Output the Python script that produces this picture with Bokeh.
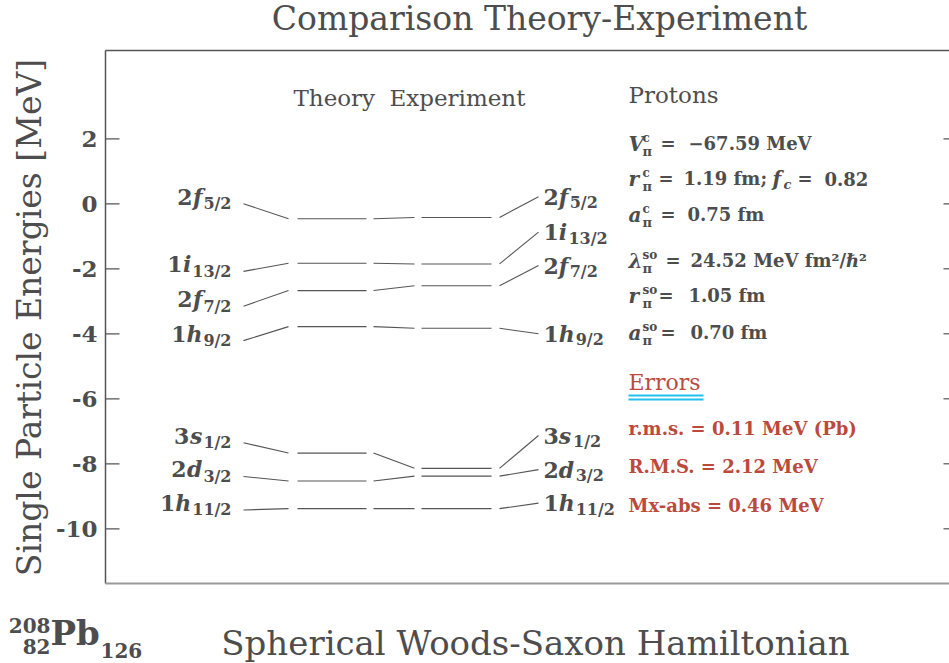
import math
from bokeh.plotting import figure
from bokeh.models import Range1d, Label, ColumnDataSource
from bokeh.embed import file_html
from bokeh.resources import INLINE
from bokeh.core.properties import value

# ---------------- data ----------------
level_n = ["2", "1", "2", "1", "3", "2", "1"]
level_l = ["f", "i", "f", "h", "s", "d", "h"]
level_j = ["5/2", "13/2", "7/2", "9/2", "1/2", "3/2", "11/2"]
e_theory = [-0.46, -1.83, -2.67, -3.78, -7.67, -8.53, -9.38]
e_experiment = [-0.42, -1.85, -2.52, -3.83, -8.14, -8.38, -9.38]
# energies at which the leader lines meet the (spread-out) level labels
label_left = [0.00, -2.08, -3.15, -4.21, -7.35, -8.39, -9.42]
label_right = [0.22, -0.87, -1.90, -4.00, -7.13, -8.18, -9.21]

y_ticks = [2, 0, -2, -4, -6, -8, -10]
y_tick_labels = ["2", "0", "-2", "-4", "-6", "-8", "-10"]

V_c = -67.59
r_c = 1.19
f_c = 0.82
a_c = 0.75
lam_so = 24.52
r_so = 1.05
a_so = 0.70
err_rms = 0.11
err_RMS = 2.12
err_mxabs = 0.46

# ---------------- style / layout ----------------
FONT = "DejaVu Serif"
TXT = "#4d4d4d"
LINE = "#555555"
RED = "#bb4a3c"
CYAN = "#1ec0ef"

W, H = 949, 663
PX_PER_MEV = 32.5
Y0_PX = 203.3              # pixel row of E = 0
BOX_L, BOX_R, BOX_T, BOX_B = 105, 949, 50, 583


def e_of(px):
    return (Y0_PX - px) / PX_PER_MEV


Y_TOP, Y_BOT = e_of(BOX_T), e_of(BOX_B)

X_LBL_L = 231
LEAD_L = (243, 288)
THEORY = (297, 366)
MID = (373, 414)
EXPER = (421, 491)
LEAD_R = (499, 538)
X_LBL_R = 543
MAIN_SZ = 22
SUB_SZ = 16
BOLD_EM = {c: 0.696 for c in "0123456789"}
BOLD_EM["/"] = 0.365
BI_EM = {"f": 0.45, "i": 0.39, "h": 0.72, "s": 0.60, "d": 0.72}

p = figure(width=W, height=H, output_backend="svg", toolbar_location=None,
           x_range=Range1d(0, W), y_range=Range1d(e_of(H), e_of(0)),
           x_axis_type=None, y_axis_type=None,
           min_border_left=0, min_border_right=0, min_border_top=0, min_border_bottom=0)
p.extra_y_ranges = {"page": Range1d(H, 0)}
p.outline_line_color = None
p.grid.visible = False
p.background_fill_color = "white"
p.border_fill_color = "white"

# ---------------- plot box & axis ----------------
p.segment(x0=BOX_L, x1=BOX_L, y0=Y_BOT, y1=Y_TOP, line_color=LINE, line_width=1.5)
p.segment(x0=BOX_L, x1=BOX_R, y0=Y_TOP, y1=Y_TOP, line_color=LINE, line_width=1.5)
p.segment(x0=BOX_L, x1=BOX_R, y0=Y_BOT, y1=Y_BOT, line_color="#999999", line_width=2)
p.segment(x0=BOX_L, x1=BOX_L + 14, y0=y_ticks, y1=y_ticks, line_color=LINE, line_width=1.2)
p.segment(x0=BOX_R - 6, x1=BOX_R, y0=y_ticks, y1=y_ticks, line_color=LINE, line_width=1.2)
p.text(x=BOX_L - 8, y=y_ticks, text=y_tick_labels, text_align="right", text_baseline="middle",
       text_font=value(FONT), text_font_style="bold", text_font_size="23px", text_color=TXT)
p.text(x=[29], y=[e_of(317)], text=["Single Particle Energies [MeV]"], angle=math.pi / 2,
       text_align="center", text_baseline="middle",
       text_font=value(FONT), text_font_size="33px", text_color=TXT)

# ---------------- levels ----------------
lw = 1.1
p.segment(x0=THEORY[0], x1=THEORY[1], y0=e_theory, y1=e_theory, line_color=LINE, line_width=lw)
p.segment(x0=EXPER[0], x1=EXPER[1], y0=e_experiment, y1=e_experiment, line_color=LINE, line_width=lw)
p.segment(x0=LEAD_L[0], x1=LEAD_L[1], y0=label_left, y1=e_theory, line_color=LINE, line_width=lw)
p.segment(x0=MID[0], x1=MID[1], y0=e_theory, y1=e_experiment, line_color=LINE, line_width=lw)
p.segment(x0=LEAD_R[0], x1=LEAD_R[1], y0=e_experiment, y1=label_right, line_color=LINE, line_width=lw)

sub_w = [sum(BOLD_EM[c] for c in j) * SUB_SZ for j in level_j]
let_w = [BI_EM[l] * MAIN_SZ for l in level_l]
num_w = [BOLD_EM[n] * MAIN_SZ for n in level_n]

src_l = ColumnDataSource(dict(
    y=label_left, n=level_n, l=level_l, j=level_j,
    off_l=[-(s + 1) for s in sub_w],
    off_n=[-(s + w + 1) for s, w in zip(sub_w, let_w)]))
src_r = ColumnDataSource(dict(
    y=label_right, n=level_n, l=level_l, j=level_j,
    off_l=[w for w in num_w],
    off_j=[w + lw_ + 1 for w, lw_ in zip(num_w, let_w)]))

common = dict(text_font=value(FONT), text_color=TXT, text_baseline="middle")
# left labels (right aligned)
p.text(x=X_LBL_L, y="y", text="j", source=src_l, text_align="right", y_offset=0,
       text_font_size=f"{SUB_SZ}px", text_font_style="bold", **common)
p.text(x=X_LBL_L, y="y", text="l", source=src_l, text_align="right", y_offset=-7, x_offset="off_l",
       text_font_size=f"{MAIN_SZ}px", text_font_style="bold italic", **common)
p.text(x=X_LBL_L, y="y", text="n", source=src_l, text_align="right", y_offset=-7, x_offset="off_n",
       text_font_size=f"{MAIN_SZ}px", text_font_style="bold", **common)
# right labels (left aligned)
p.text(x=X_LBL_R, y="y", text="n", source=src_r, text_align="left", y_offset=0,
       text_font_size=f"{MAIN_SZ}px", text_font_style="bold", **common)
p.text(x=X_LBL_R, y="y", text="l", source=src_r, text_align="left", y_offset=0, x_offset="off_l",
       text_font_size=f"{MAIN_SZ}px", text_font_style="bold italic", **common)
p.text(x=X_LBL_R, y="y", text="j", source=src_r, text_align="left", y_offset=6, x_offset="off_j",
       text_font_size=f"{SUB_SZ}px", text_font_style="bold", **common)


def lab(x, y, txt, size, style="bold", color=TXT, align="left"):
    p.add_layout(Label(x=x, y=y, y_range_name="page", text=txt, text_font=FONT,
                       text_font_size=f"{size}px", text_font_style=style, text_color=color,
                       text_align=align, text_baseline="middle"))


# headers
lab(539, 18, "Comparison Theory-Experiment", 33, style="normal", align="center")
lab(535, 642, "Spherical Woods-Saxon Hamiltonian", 34, style="normal", align="center")
lab(293, 97, "Theory", 23, style="normal")
lab(389, 97, "Experiment", 23, style="normal")
lab(628, 94, "Protons", 23, style="normal")

# nucleus label
lab(50, 625, "208", 20, align="right")
lab(50, 646, "82", 20, align="right")
lab(50, 632, "Pb", 34)
lab(100, 650, "126", 20)

# parameters
rows = [
    (143, "V", "\u03c0", "c", 660, 688, f"\u2212{abs(V_c):.2f} MeV"),
    (178, "r", "\u03c0", "c", 658, 683, f"{r_c:.2f} fm;"),
    (214, "a", "\u03c0", "c", 660, 687, f"{a_c:.2f} fm"),
    (260, "\u03bb", "\u03c0", "so", 665, 690, f"{lam_so:.2f} MeV fm\u00b2/\u210f\u00b2"),
    (295, "r", "\u03c0", "so", 658, 688, f"{r_so:.2f} fm"),
    (332, "a", "\u03c0", "so", 660, 690, f"{a_so:.2f} fm"),
]
for (yy, sym, sub, sup, xeq, xval, valtxt) in rows:
    lab(628, yy, sym, 20, style="bold italic")
    lab(642, yy + 8, sub, 13, style="bold")
    lab(642, yy - 6, sup, 12, style="bold")
    lab(xeq, yy, "=", 18)
    lab(xval, yy, valtxt, 18)
# f_c on second row
lab(772, 178, "f", 20, style="bold italic")
lab(783, 184, "c", 13, style="bold italic")
lab(797, 178, "=", 18)
lab(824, 178, f"{f_c:.2f}", 18)

# errors
lab(628, 382, "Errors", 22, style="normal", color=RED)
p.segment(x0=628, x1=703, y0=[395, 399], y1=[395, 399], y_range_name="page",
          line_color=CYAN, line_width=2)
lab(628, 428, f"r.m.s. = {err_rms:.2f} MeV  (Pb)", 18, color=RED)
lab(628, 466, f"R.M.S. = {err_RMS:.2f} MeV", 18, color=RED)
lab(628, 505, f"Mx-abs = {err_mxabs:.2f} MeV", 18, color=RED)

open("out.html", "w").write(file_html(p, INLINE))
